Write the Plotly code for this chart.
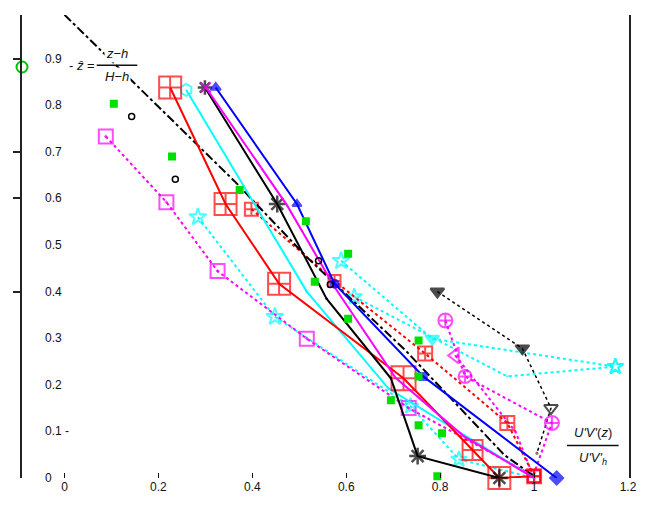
import plotly.graph_objects as go

# ---------------- data (x = U'V'(z)/U'V'_h , y = z-hat) ----------------
blue_x = [0.322, 0.495, 0.575, 0.764, 1.048]
blue_y = [0.838, 0.588, 0.417, 0.218, 0.0]

mag_solid_x = [0.301, 0.474, 0.575, 0.705, 0.85, 1.0]
mag_solid_y = [0.838, 0.585, 0.41, 0.215, 0.09, 0.0]

blk_solid_x = [0.299, 0.453, 0.558, 0.695, 0.752, 0.926]
blk_solid_y = [0.838, 0.588, 0.385, 0.214, 0.047, 0.0]

cyan_solid_x = [0.259, 0.516, 0.69, 1.0]
cyan_solid_y = [0.833, 0.40, 0.192, 0.0]

red_solid_x = [0.225, 0.343, 0.457, 0.722, 0.869, 0.926, 1.0]
red_solid_y = [0.838, 0.588, 0.417, 0.214, 0.060, 0.0, 0.004]

red_dot_x = [0.398, 0.575, 0.768, 0.943, 1.0]
red_dot_y = [0.577, 0.423, 0.267, 0.118, 0.004]

mag_sq_x = [0.088, 0.217, 0.326, 0.516, 0.733, 1.0]
mag_sq_y = [0.733, 0.592, 0.444, 0.299, 0.150, 0.004]

cyan_dot1_x = [0.284, 0.448, 0.737, 0.84, 1.0]
cyan_dot1_y = [0.560, 0.346, 0.154, 0.04, 0.0]

cyan_dot2_x = [0.589, 0.783, 1.173]
cyan_dot2_y = [0.466, 0.299, 0.239]

cyan_dot3_x = [0.617, 0.943, 1.173]
cyan_dot3_y = [0.389, 0.218, 0.239]

blk_tri_x = [0.794, 0.975, 1.036, 1.006]
blk_tri_y = [0.400, 0.278, 0.150, 0.053]

mag_cp_x = [0.811, 0.853, 1.038, 1.0]
mag_cp_y = [0.338, 0.218, 0.118, 0.01]

mag_tl_x = [0.832, 0.96, 1.0]
mag_tl_y = [0.263, 0.10, 0.0]

green_x = [0.105, 0.229, 0.373, 0.514, 0.604, 0.533, 0.604, 0.754, 0.754, 0.695, 0.754, 0.804, 0.794]
green_y = [0.803, 0.690, 0.618, 0.551, 0.481, 0.421, 0.342, 0.295, 0.218, 0.167, 0.113, 0.096, 0.004]

green_circ_x = [-0.0905]
green_circ_y = [0.882]

blk_circ_x = [0.143, 0.236, 0.541, 0.566]
blk_circ_y = [0.776, 0.641, 0.466, 0.415]

blk_dash_x = [0.0, 0.362, 0.516, 0.726, 0.937, 1.0]
blk_dash_y = [0.994, 0.637, 0.474, 0.274, 0.049, 0.004]

x_ticks = [0, 0.2, 0.4, 0.6, 0.8, 1.0, 1.2]
x_ticktext = ["0", "0.2", "0.4", "0.6", "0.8", "1", "1.2"]
y_ticks = [1.0, 0.9, 0.8, 0.7, 0.6, 0.5, 0.4, 0.3, 0.2, 0.1, 0.0]
y_ticktext = ["1", "0.9", "0.8", "0.7", "0.6", "0.5", "0.4", "0.3", "0.2", "0.1 -", "0"]
y_axis_ticks = [0.9, 0.7, 0.6, 0.4]

FONT = "Liberation Sans Narrow, Liberation Sans, Arial"

fig = go.Figure()


def add(x, y, color, dash="solid", width=2, mode="lines+markers", symbol="circle",
        size=6, mwidth=2):
    fig.add_trace(go.Scatter(
        x=x, y=y, mode=mode, cliponaxis=False, showlegend=False,
        line=dict(color=color, dash=dash, width=width),
        marker=dict(symbol=symbol, size=size, color=color,
                    line=dict(color=color, width=mwidth)),
    ))


# dotted series (drawn first)
add(cyan_dot2_x, cyan_dot2_y, "#00ffff", dash="dot", width=2,
    symbol=["star-open", "triangle-down", "star-open"], size=[13, 12, 12])
add(cyan_dot3_x, cyan_dot3_y, "#00ffff", dash="dot", width=2,
    symbol=["star-open", "star-open", "star-open"], size=[12, 1, 12])
add(cyan_dot1_x, cyan_dot1_y, "#00ffff", dash="dot", width=2,
    symbol="star-open", size=[13, 13, 12, 12, 1])
add(blk_tri_x, blk_tri_y, "#000000", dash="dot", width=1.5,
    symbol=["triangle-down", "triangle-down", "triangle-down-open", "circle-open"],
    size=[12, 12, 12, 1])
add(mag_cp_x, mag_cp_y, "#ff00ff", dash="dot", width=2,
    symbol="circle-cross-open", size=[14, 13, 14, 1])
add(mag_tl_x, mag_tl_y, "#ff00ff", dash="dot", width=2,
    symbol="triangle-left-open", size=[14, 1, 1])
add(mag_sq_x, mag_sq_y, "#ff00ff", dash="dot", width=2,
    symbol="square-open-dot", size=[14, 14, 14, 14, 14, 12])
add(red_dot_x, red_dot_y, "#ff0000", dash="dot", width=2,
    symbol="square-cross-open", size=[13, 12, 14, 14, 12])
add(blk_dash_x, blk_dash_y, "#000000", dash="dashdot", width=2,
    mode="lines")

# solid series
add(cyan_solid_x, cyan_solid_y, "#00ffff", width=2,
    symbol="hexagon-open", size=[12, 1, 1, 1])
add(red_solid_x, red_solid_y, "#ff0000", width=2,
    symbol="square-cross-open", size=[22, 22, 22, 24, 20, 22, 14])
add(blk_solid_x, blk_solid_y, "#000000", width=2,
    symbol="asterisk-open", size=[12, 14, 1, 1, 14, 14], mwidth=2.5)
add(mag_solid_x, mag_solid_y, "#ff00ff", width=2,
    symbol="x-thin-open", size=[10, 1, 1, 1, 1, 1], mwidth=2)
add(blue_x, blue_y, "#0000ff", width=2,
    symbol=["triangle-up", "triangle-up", "circle", "square", "diamond"],
    size=[9, 8, 8, 7, 10])

# marker-only series
add(blk_circ_x, blk_circ_y, "#000000", mode="markers", symbol="circle-open",
    size=6, mwidth=1.5)
add(green_x, green_y, "#00e000", mode="markers", symbol="square", size=6)
add(green_circ_x, green_circ_y, "#00c000", mode="markers", symbol="circle-open",
    size=11, mwidth=2)

# ---------------- text ----------------
ann = []
for v, t in zip(y_ticks, y_ticktext):
    ann.append(dict(x=-0.046, y=v, xref="x", yref="y", text=t, showarrow=False,
                    xanchor="left", yanchor="middle",
                    font=dict(family=FONT, size=12, color="#111")))
# formula z-hat = (z-h)/(H-h)
ann.append(dict(x=0.005, y=0.886, xref="x", yref="y", text="- <i>ẑ</i> =",
                showarrow=False, xanchor="left", yanchor="middle", bgcolor="white",
                font=dict(family=FONT, size=13, color="#111")))
ann.append(dict(x=0.112, y=0.910, xref="x", yref="y", text="<i>z</i>−<i>h</i>",
                showarrow=False, xanchor="center", yanchor="middle", bgcolor="white",
                font=dict(family=FONT, size=13, color="#111")))
ann.append(dict(x=0.112, y=0.862, xref="x", yref="y", text="<i>H</i>−<i>h</i>",
                showarrow=False, xanchor="center", yanchor="middle", bgcolor="white",
                font=dict(family=FONT, size=13, color="#111")))
# right label U'V'(z)/U'V'_h
ann.append(dict(x=1.125, y=0.097, xref="x", yref="y", text="<i>U'V'</i>(<i>z</i>)",
                showarrow=False, xanchor="center", yanchor="middle",
                font=dict(family=FONT, size=13, color="#111")))
ann.append(dict(x=1.125, y=0.042, xref="x", yref="y", text="<i>U'V'</i><sub><i>h</i></sub>",
                showarrow=False, xanchor="center", yanchor="middle",
                font=dict(family=FONT, size=13, color="#111")))

shapes = [
    dict(type="line", xref="x", yref="y", x0=0.068, x1=0.155, y0=0.886, y1=0.886,
         line=dict(color="#111", width=1.5)),
    dict(type="line", xref="x", yref="y", x0=1.07, x1=1.18, y0=0.07, y1=0.07,
         line=dict(color="#111", width=1.5)),
]

fig.update_layout(
    width=649, height=506,
    margin=dict(l=22, r=13, t=15, b=26),
    plot_bgcolor="white", paper_bgcolor="white",
    annotations=ann, shapes=shapes,
    xaxis=dict(range=[-0.0905, 1.2021], showgrid=False, zeroline=False,
               showline=False, tickvals=x_ticks, ticktext=x_ticktext,
               ticks="inside", ticklen=5, tickcolor="#111",
               tickfont=dict(family=FONT, size=12, color="#111")),
    yaxis=dict(range=[0, 0.9936], showgrid=False, zeroline=False,
               showline=True, linecolor="#222", linewidth=2, mirror=True,
               tickvals=y_axis_ticks, ticks="outside", ticklen=7,
               tickcolor="#222", tickwidth=2, showticklabels=False),
)

fig.write_html("out.html")
